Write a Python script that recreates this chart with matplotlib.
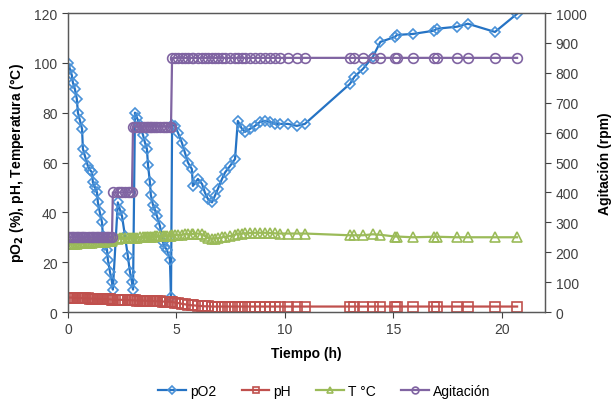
import matplotlib
matplotlib.use("Agg")
import matplotlib.pyplot as plt

plt.rcParams['font.family'] = ['Liberation Sans', 'DejaVu Sans']

# time (h)
tiempo = [0.00, 0.09, 0.18, 0.23, 0.32, 0.41, 0.46, 0.55, 0.65, 0.69,
          0.78, 0.92, 1.02, 1.11, 1.15, 1.25, 1.34, 1.38, 1.47, 1.57,
          1.61, 1.70, 1.80, 1.84, 1.94, 2.03,
          2.07, 2.30, 2.40, 2.49, 2.63, 2.76, 2.86, 2.95,
          3.00, 3.09, 3.18, 3.32, 3.46, 3.55, 3.64, 3.69, 3.78, 3.82,
          3.92, 4.01, 4.10, 4.24, 4.38, 4.47, 4.56, 4.70, 4.75,
          4.80, 4.93, 5.07, 5.25, 5.39, 5.53, 5.71, 5.76, 5.99, 6.18,
          6.31, 6.45, 6.64, 6.77, 6.91, 7.10, 7.24, 7.47, 7.70, 7.83,
          8.02, 8.16, 8.39, 8.62, 8.85, 9.08, 9.31, 9.54, 9.77, 10.14,
          10.55, 10.92, 13.00, 13.20, 13.60, 14.05, 14.40, 15.07, 15.16, 15.90,
          16.87, 17.00, 17.93, 18.43, 19.68, 20.70]

po2 = [100, 97.6, 95, 92, 89.5, 85.5, 80, 77, 73.5, 65.5,
       62.7, 58.6, 57, 56, 52, 50, 48, 44, 40, 36,
       30.5, 27, 25, 21, 16, 12,
       9, 44, 41, 38.6, 30.5, 22.5, 16, 12,
       9, 80, 78, 75, 71, 68, 65.5, 59, 52, 47,
       43, 41, 38.6, 34.5, 28, 26, 25, 21, 6,
       75, 74.7, 72, 68, 64, 60, 57.4, 50.6, 53.4, 51.4,
       48, 45.4, 44, 46.6, 49.4, 53.4, 56, 58.6, 61.4, 76.7,
       73.5, 72.3, 73.5, 74.7, 76.3, 76.7, 76.3, 75.5, 75.5, 75.5,
       74.7, 75.5, 91.6, 94.4, 97.6, 102.4, 108.4, 110.4, 111.2, 111.6,
       112.9, 113.7, 114.5, 115.7, 112.4, 119.7]

ph = [5.8, 5.8, 5.8, 5.7, 5.7, 5.7, 5.6, 5.6, 5.6, 5.5,
      5.5, 5.5, 5.4, 5.4, 5.4, 5.4, 5.3, 5.3, 5.3, 5.2,
      5.2, 5.2, 5.1, 5.1, 5.1, 5.0,
      5.0, 4.9, 4.9, 4.9, 4.8, 4.8, 4.8, 4.7,
      4.7, 4.7, 4.6, 4.6, 4.6, 4.5, 4.5, 4.5, 4.4, 4.4,
      4.4, 4.3, 4.3, 4.3, 4.2, 4.2, 4.2, 4.1, 4.1,
      4.0, 3.8, 3.6, 3.3, 3.1, 2.9, 2.7, 2.7, 2.5, 2.4,
      2.3, 2.3, 2.2, 2.2, 2.2, 2.2, 2.2, 2.2, 2.2, 2.2,
      2.2, 2.2, 2.2, 2.2, 2.2, 2.2, 2.2, 2.2, 2.2, 2.2,
      2.2, 2.2, 2.2, 2.2, 2.2, 2.2, 2.2, 2.2, 2.2, 2.2,
      2.2, 2.2, 2.2, 2.2, 2.2, 2.2]

temp = [27.3, 27.3, 27.4, 27.4, 27.5, 27.5, 27.6, 27.6, 27.7, 27.7,
        27.8, 27.8, 27.9, 27.9, 28.0, 28.0, 28.1, 28.1, 28.2, 28.2,
        28.3, 28.3, 28.4, 28.4, 28.5, 28.6,
        29.5, 29.5, 29.6, 29.6, 29.7, 29.7, 29.8, 29.8,
        29.8, 29.9, 29.9, 30.0, 30.0, 30.1, 30.1, 30.2, 30.2, 30.3,
        30.3, 30.4, 30.4, 30.5, 30.5, 30.6, 30.6, 30.7, 30.7,
        30.8, 30.8, 31.0, 31.0, 31.2, 31.2, 31.3, 31.3, 31.5, 31.2,
        30.5, 29.8, 29.5, 29.5, 29.6, 30.0, 30.2, 30.5, 31.0, 31.5,
        31.5, 31.6, 31.7, 31.8, 31.8, 31.8, 31.7, 31.6, 31.5, 31.5,
        31.5, 31.5, 30.8, 30.8, 30.8, 31.2, 31.0, 30.3, 30.3, 30.0,
        30.2, 30.2, 30.0, 30.0, 30.0, 30.0]

agitacion = [250] * 26 + [400] * 8 + [620] * 19 + [850] * 46

c_po2 = '#2573C4'
c_po2m = '#4A92D8'
c_ph = '#C0504D'
c_t = '#9BBB59'
c_ag = '#8064A2'

fig = plt.figure(figsize=(6.12, 4.06), dpi=100)
ax = fig.add_axes([0.111, 0.229, 0.780, 0.7365])
ax2 = ax.twinx()

l1, = ax.plot(tiempo, po2, color=c_po2, lw=1.6, marker='D', ms=5.5,
              mfc='none', mec=c_po2m, mew=1.2, label='pO2')
l2, = ax.plot(tiempo, ph, color=c_ph, lw=1.6, marker='s', ms=6.5,
              mfc='none', mec=c_ph, mew=1.2, label='pH')
l3, = ax.plot(tiempo, temp, color=c_t, lw=1.6, marker='^', ms=7,
              mfc='none', mec=c_t, mew=1.2, label='T °C')
l4, = ax2.plot(tiempo, agitacion, color=c_ag, lw=1.6, marker='o', ms=7,
               mfc='none', mec=c_ag, mew=1.2, label='Agitación')

ax.set_xlim(0, 22)
ax.set_ylim(0, 120)
ax2.set_ylim(0, 1000)
ax.set_xticks([0, 5, 10, 15, 20])
ax.set_yticks(range(0, 121, 20))
ax2.set_yticks(range(0, 1001, 100))

for a in (ax, ax2):
    a.tick_params(axis='both', labelsize=10, direction='out', length=4,
                  width=0.8, colors='#404040', labelcolor='#404040')
    for s in a.spines.values():
        s.set_color('#595959')
        s.set_linewidth(0.9)

ax.set_xlabel('Tiempo (h)', fontsize=10, fontweight='bold', labelpad=7)
ax.set_ylabel('pO$_\\mathbf{2}$ (%), pH, Temperatura (°C)', fontsize=10,
              fontweight='bold', labelpad=6)
ax2.set_ylabel('Agitación (rpm)', fontsize=10, fontweight='bold', labelpad=8)

fig.legend(handles=[l1, l2, l3, l4], loc='center', bbox_to_anchor=(0.53, 0.035),
           ncol=4, frameon=False, fontsize=10, handlelength=2.0,
           columnspacing=1.8, handletextpad=0.3, markerscale=0.7)

fig.savefig('out.png', dpi=100)
